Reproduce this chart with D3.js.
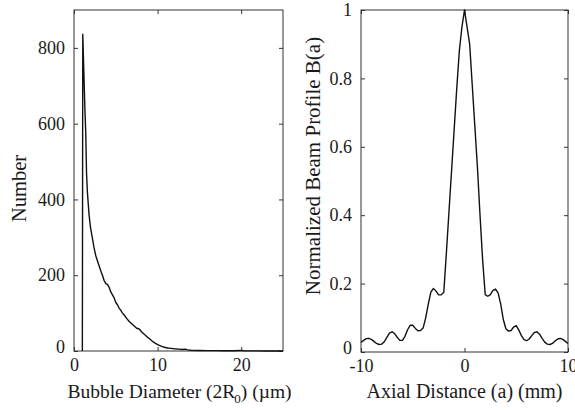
<!DOCTYPE html>
<html>
<head>
<meta charset="utf-8">
<script src="https://cdn.jsdelivr.net/npm/d3@7"></script>
<style>
  body { margin: 0; background: #fff; }
  svg text { font-family: "Liberation Serif", "DejaVu Serif", serif; fill: #1a1a1a; }
</style>
</head>
<body>
<div id="chart"></div>
<script>
// bubble size distribution (left panel)
const bubbleDiameter = [1.0, 1.05, 1.2, 1.3, 1.4, 1.5, 1.6, 1.7, 1.8, 1.9, 2.0, 2.2, 2.4, 2.6, 2.8, 3.0,
  3.2, 3.4, 3.6, 3.8, 4.0, 4.2, 4.4, 4.6, 4.8, 5.0, 5.2, 5.4, 5.6, 5.8, 6.0, 6.3, 6.6, 6.9, 7.2, 7.5,
  7.8, 8.1, 8.4, 8.7, 9.0, 9.3, 9.6, 9.9, 10.2, 10.5, 10.8, 11.2, 11.6, 12.0, 12.5, 13.0, 13.3, 13.6,
  14.0, 15.0, 16.0, 17.0, 18.0, 19.0, 20.0, 20.3, 21.0, 22.0, 23.0, 24.0, 25.0];
const bubbleCount = [0, 836, 720, 640, 580, 470, 420, 390, 360, 340, 322, 298, 272, 252, 238, 225,
  212, 200, 186, 178, 176, 168, 156, 148, 140, 128, 122, 113, 107, 100, 95, 86, 78, 72, 66, 60,
  58, 50, 44, 38, 33, 27, 22, 18, 15, 12, 10, 8, 7, 6, 5, 4, 5, 3,
  2, 1.5, 1, 1, 0.5, 0.5, 1.5, 0.5, 0.3, 0.2, 0.1, 0.1, 0];

// beam profile (right panel)
const axialDist = [-10, -9.75, -9.5, -9.25, -9, -8.75, -8.5, -8.25, -8, -7.75, -7.5, -7.25, -7, -6.75,
  -6.5, -6.25, -6, -5.75, -5.5, -5.25, -5, -4.75, -4.5, -4.25, -4, -3.75, -3.5, -3.25, -3, -2.75,
  -2.5, -2.25, -2, -1.75, -1.5, -1.25, -1, -0.75, -0.5, -0.25, 0, 0.25, 0.5, 0.75, 1, 1.25, 1.5,
  1.75, 2, 2.25, 2.5, 2.75, 3, 3.25, 3.5, 3.75, 4, 4.25, 4.5, 4.75, 5, 5.25, 5.5, 5.75, 6, 6.25,
  6.5, 6.75, 7, 7.25, 7.5, 7.75, 8, 8.25, 8.5, 8.75, 9, 9.25, 9.5, 9.75, 10];
const beamProfile = [0.028, 0.034, 0.039, 0.040, 0.037, 0.031, 0.025, 0.022, 0.023, 0.030, 0.043,
  0.055, 0.059, 0.054, 0.043, 0.034, 0.034, 0.046, 0.065, 0.078, 0.078, 0.069, 0.062, 0.063, 0.070,
  0.100, 0.140, 0.175, 0.186, 0.178, 0.167, 0.167, 0.175, 0.29, 0.41, 0.53, 0.65, 0.77, 0.88, 0.95,
  1.0, 0.95, 0.90, 0.78, 0.66, 0.54, 0.40, 0.27, 0.168, 0.163, 0.168, 0.180, 0.184, 0.172, 0.140,
  0.095, 0.068, 0.061, 0.063, 0.073, 0.077, 0.064, 0.048, 0.036, 0.033, 0.038, 0.048, 0.057, 0.059,
  0.052, 0.040, 0.029, 0.023, 0.022, 0.025, 0.032, 0.038, 0.040, 0.037, 0.031, 0.025];

const leftXTicks = [0, 10, 20];
const leftYTicks = [0, 200, 400, 600, 800];
const rightXTicks = [-10, 0, 10];
const rightYTicks = [0, 0.2, 0.4, 0.6, 0.8, 1];

const width = 575, height = 412;
const tickLen = 4;
const serif = '"Liberation Serif", "DejaVu Serif", serif';

// plain hyphen for negatives, like the original plot
const intFmt = d => String(d);

const svg = d3.select("#chart").append("svg")
  .attr("width", width).attr("height", height);

function drawPanel(box, xDomain, yDomain, xTicks, yTicks, xs, ys, yFmt) {
  const x = d3.scaleLinear(xDomain, [box.left, box.right]);
  const y = d3.scaleLinear(yDomain, [box.bottom, box.top]);
  const g = svg.append("g");

  // ticks on all four sides, pointing in
  const axes = [
    [d3.axisBottom(x).tickValues(xTicks).tickFormat(intFmt), `translate(0,${box.bottom})`, 7],
    [d3.axisTop(x).tickValues(xTicks).tickFormat(""), `translate(0,${box.top})`, 0],
    [d3.axisLeft(y).tickValues(yTicks).tickFormat(yFmt), `translate(${box.left},0)`, 9],
    [d3.axisRight(y).tickValues(yTicks).tickFormat(""), `translate(${box.right},0)`, 0]
  ];
  axes.forEach(([ax, tr, pad], k) => {
    const a = g.append("g").attr("transform", tr)
      .attr("font-family", serif)
      .call(ax.tickSizeInner(-tickLen).tickSizeOuter(0).tickPadding(pad));
    a.select(".domain").remove();
    a.selectAll("line").attr("stroke", "#333");
    a.selectAll("text")
      .style("font-family", serif)
      .style("font-size", "18px")
      .attr("fill", "#1a1a1a");
    // the y "0" sits a touch high in the original
    if (k === 2) a.selectAll("text").filter(d => d === 0).attr("dy", "0.1em");
  });

  g.append("rect")
    .attr("x", box.left).attr("y", box.top)
    .attr("width", box.right - box.left).attr("height", box.bottom - box.top)
    .attr("fill", "none").attr("stroke", "#333").attr("stroke-width", 1);

  const pts = xs.map((d, i) => [d, ys[i]]);
  g.append("path")
    .datum(pts)
    .attr("fill", "none")
    .attr("stroke", "#111")
    .attr("stroke-width", 1.4)
    .attr("stroke-linejoin", "round")
    .attr("d", d3.line().x(d => x(d[0])).y(d => y(d[1])));
  return g;
}

const leftBox = {left: 74, right: 283, top: 10, bottom: 351};
const rightBox = {left: 361, right: 568, top: 10, bottom: 352};

const gl = drawPanel(leftBox, [0, 25], [0, 900], leftXTicks, leftYTicks,
  bubbleDiameter, bubbleCount, intFmt);
const gr = drawPanel(rightBox, [-10, 10], [0, 1], rightXTicks, rightYTicks,
  axialDist, beamProfile, d => d === 0 || d === 1 ? String(d) : d3.format(".1f")(d));

// axis titles
const xl = gl.append("text")
  .attr("x", (leftBox.left + leftBox.right) / 2 + 1).attr("y", 398)
  .attr("text-anchor", "middle").style("font-size", "19.5px").style("font-family", serif);
xl.append("tspan").text("Bubble Diameter (2R");
xl.append("tspan").attr("dy", 5).attr("dx", -1).style("font-size", "13px").text("0");
xl.append("tspan").attr("dy", -5).text(") (\u00b5m)");

gl.append("text")
  .attr("transform", `translate(26,${(leftBox.top + leftBox.bottom) / 2 + 8}) rotate(-90)`)
  .attr("text-anchor", "middle").style("font-size", "20.5px").style("font-family", serif)
  .text("Number");

gr.append("text")
  .attr("x", (rightBox.left + rightBox.right) / 2).attr("y", 398)
  .attr("text-anchor", "middle").style("font-size", "20px").style("font-family", serif)
  .text("Axial Distance (a) (mm)");

gr.append("text")
  .attr("transform", `translate(320,${(rightBox.top + rightBox.bottom) / 2 - 15}) rotate(-90)`)
  .attr("text-anchor", "middle").style("font-size", "21px").style("font-family", serif)
  .text("Normalized Beam Profile B(a)");
</script>
</body>
</html>
